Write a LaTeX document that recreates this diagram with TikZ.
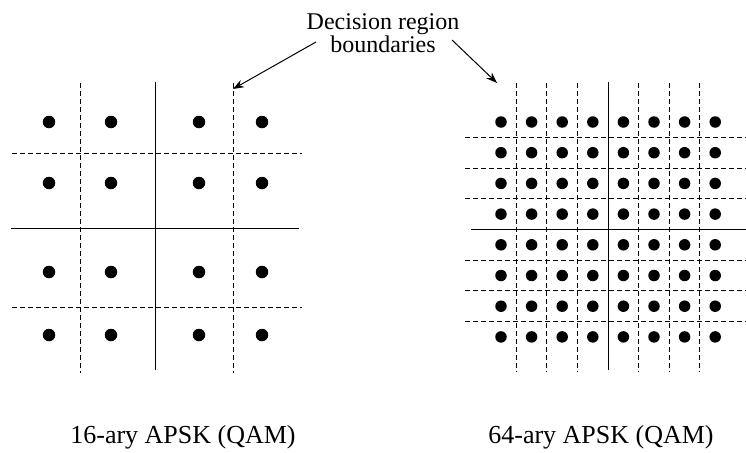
\documentclass[tikz,border=0pt]{standalone}
\usepackage{fontspec}
\setmainfont{Liberation Serif}
\usepackage{tikz}
\usetikzlibrary{arrows.meta}
\tikzstyle{dot} = [circle, fill=black, inner sep=0pt, minimum size=12.5pt]
\tikzstyle{smalldot} = [circle, fill=black, inner sep=0pt, minimum size=11.5pt]
\tikzstyle{bound} = [line width=1pt, dash pattern=on 5pt off 3pt]
\tikzstyle{axis} = [line width=1pt]
\tikzstyle{label} = [font=\fontsize{24}{23}\selectfont, align=center, inner sep=0pt]
\tikzstyle{caption} = [font=\fontsize{26}{26}\selectfont, inner sep=0pt, anchor=base]
\tikzstyle{arrow} = [line width=1pt, -{Stealth[length=11pt, width=8pt]}]

\begin{document}
\begin{tikzpicture}[x=1pt, y=-1pt]
          \useasboundingbox (0,0) rectangle (746,452);
          % 16-ary constellation
          \foreach \x in {80,233} \draw [bound] (\x,83) -- (\x,373);
          \foreach \y in {153,307} \draw [bound] (12,\y) -- (302,\y);
          \draw [axis] (155,82) -- (155,370);
          \draw [axis] (11,228) -- (299,228);
          \foreach \x [count=\i] in {49,111,199,262}
            \foreach \y [count=\j] in {122,183,272,335}
              \node (p\i\j) [dot] at (\x,\y) {};
          % 64-ary constellation
          \foreach \k in {0,1,2,4,5,6} \draw [bound] (516.3+30.6*\k,83) -- (516.3+30.6*\k,372);
          \foreach \k in {0,1,2,4,5,6} \draw [bound] (465,137.4+30.7*\k) -- (746,137.4+30.7*\k);
          \draw [axis] (608.1,82) -- (608.1,370);
          \draw [axis] (471,229.4) -- (746,229.4);
          \foreach \i in {0,...,7}
            \foreach \j in {0,...,7}
              \node (q\i\j) [smalldot] at (501+30.6*\i,122+30.7*\j) {};
          % labels
          \node (dec) [label] at (383,33) {Decision region\\boundaries};
          \node (qam16) [caption] at (183,443) {16-ary APSK (QAM)};
          \node (qam64) [caption] at (601,443) {64-ary APSK (QAM)};
          \coordinate (fromL) at (316,42);
          \coordinate (fromR) at (452,40);
          \coordinate (tipL) at (233,89);
          \coordinate (tipR) at (497,83);
          \draw [arrow] (fromL) -- (tipL);
          \draw [arrow] (fromR) -- (tipR);
        \end{tikzpicture}
\end{document}
